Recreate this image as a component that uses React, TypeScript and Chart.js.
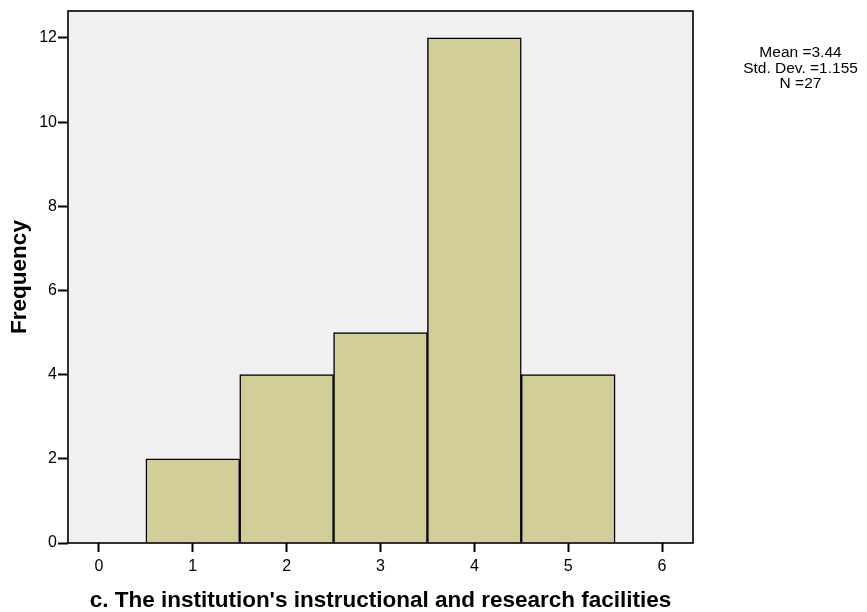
import React, { useEffect, useRef } from 'react';
import { Chart, registerables } from 'chart.js';

Chart.register(...registerables);

const binCenters = [1, 2, 3, 4, 5];
const frequencies = [2, 4, 5, 12, 4];
const xTickValues = [0, 1, 2, 3, 4, 5, 6];
const yTickValues = [0, 2, 4, 6, 8, 10, 12];
const statsLines = ['Mean =3.44', 'Std. Dev. =1.155', 'N =27'];
const xTitle = "c. The institution's instructional and research facilities";
const yTitle = 'Frequency';
const xRange = [-0.33, 6.33];
const yRange = [0, 12.64];

const FONT = "Arial, 'Liberation Sans', sans-serif";

export default function App() {
  const ref = useRef<HTMLCanvasElement>(null);

  useEffect(() => {
    if (!ref.current) return;

    const framePlugin = {
      id: 'framePlugin',
      beforeDraw(chart: any) {
        const { ctx, chartArea: a } = chart;
        ctx.save();
        ctx.fillStyle = '#ffffff';
        ctx.fillRect(0, 0, chart.width, chart.height);
        ctx.fillStyle = '#F0F0F0';
        ctx.fillRect(a.left, a.top, a.right - a.left, a.bottom - a.top);
        ctx.restore();
      },
      afterDatasetsDraw(chart: any) {
        const { ctx, chartArea: a } = chart;
        ctx.save();
        ctx.strokeStyle = '#000';
        ctx.lineWidth = 1.6;
        ctx.strokeRect(a.left, a.top, a.right - a.left, a.bottom - a.top);
        ctx.restore();
      },
      afterDraw(chart: any) {
        const { ctx } = chart;
        ctx.save();
        ctx.fillStyle = '#000';
        ctx.font = `15.5px ${FONT}`;
        ctx.textAlign = 'center';
        ctx.textBaseline = 'middle';
        const ys = [53, 68.3, 83.6];
        statsLines.forEach((t, i) => ctx.fillText(t, 800.5, ys[i]));
        ctx.restore();
      },
    };

    const chart = new Chart(ref.current, {
      type: 'bar',
      data: {
        datasets: [
          {
            data: binCenters.map((x, i) => ({ x, y: frequencies[i] })),
            backgroundColor: '#D3CE98',
            borderColor: '#000',
            borderWidth: 1.5,
            barPercentage: 1,
            categoryPercentage: 1,
          },
        ],
      },
      options: {
        responsive: false,
        animation: false,
        devicePixelRatio: 1,
        layout: { padding: { top: 11, right: 174, left: 0, bottom: 0 } },
        plugins: {
          legend: { display: false },
          tooltip: { enabled: false },
          title: { display: false },
        },
        scales: {
          x: {
            type: 'linear',
            min: xRange[0],
            max: xRange[1],
            offset: false,
            grid: {
              offset: false,
              drawOnChartArea: false,
              drawTicks: true,
              tickLength: 9,
              tickWidth: 2,
              tickColor: '#000',
            },
            border: { display: false },
            ticks: {
              color: '#000',
              font: { family: FONT, size: 16 },
              padding: 5,
              callback: (v: any) => String(v),
            },
            afterBuildTicks: (scale: any) => {
              scale.ticks = xTickValues.map((v) => ({ value: v }));
            },
            afterFit: (scale: any) => {
              scale.height = 69;
            },
            title: {
              display: true,
              text: xTitle,
              color: '#000',
              font: { family: FONT, size: 22.5, weight: 'bold' },
              padding: { top: 0, bottom: -2.5 },
            },
          },
          y: {
            type: 'linear',
            min: yRange[0],
            max: yRange[1],
            grid: {
              drawOnChartArea: false,
              drawTicks: true,
              tickLength: 10,
              tickWidth: 2,
              tickColor: '#000',
            },
            border: { display: false },
            ticks: {
              color: '#000',
              font: { family: FONT, size: 16 },
              padding: 1,
              callback: (v: any) => String(v),
            },
            afterBuildTicks: (scale: any) => {
              scale.ticks = yTickValues.map((v) => ({ value: v }));
            },
            afterFit: (scale: any) => {
              scale.width = 68;
            },
            title: {
              display: true,
              text: yTitle,
              color: '#000',
              font: { family: FONT, size: 22.5, weight: 'bold' },
              padding: { top: 6.5, bottom: 0 },
            },
          },
        },
      },
      plugins: [framePlugin],
    } as any);

    return () => chart.destroy();
  }, []);

  return (
    <div style={{ position: 'fixed', left: 0, top: 0, width: 867, height: 612, background: '#fff' }}>
      <canvas ref={ref} width={867} height={612} style={{ width: 867, height: 612, display: 'block' }} />
    </div>
  );
}
